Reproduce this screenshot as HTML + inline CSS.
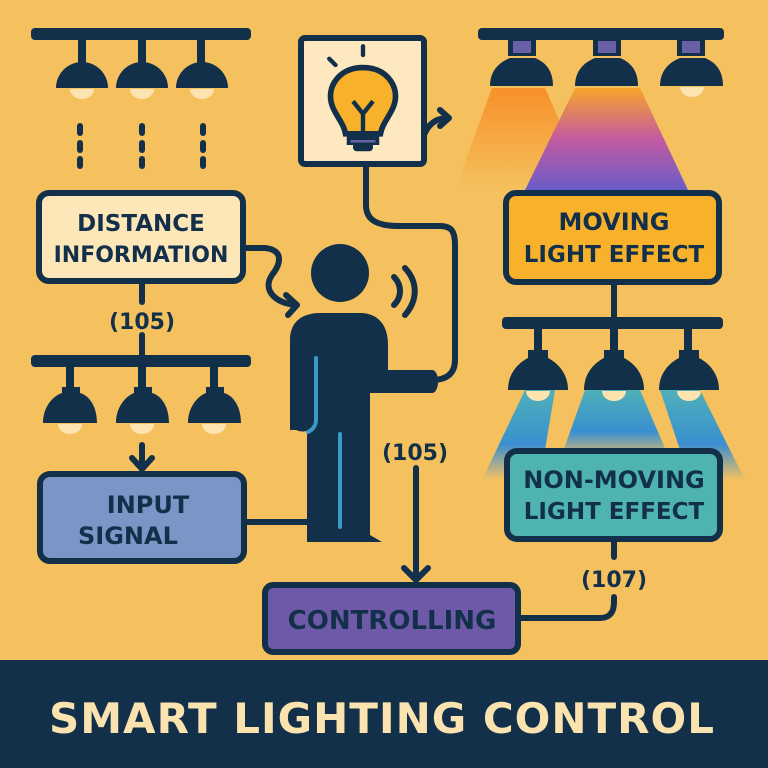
<!DOCTYPE html>
<html><head><meta charset="utf-8"><style>
html,body{margin:0;padding:0;background:#f5c15e;}
svg{display:block;}
text{font-family:"DejaVu Sans","Liberation Sans",sans-serif;font-weight:bold;fill:#13304a;}
</style></head><body>
<svg width="768" height="768" viewBox="0 0 768 768" xmlns="http://www.w3.org/2000/svg">
<defs>
<linearGradient id="og" x1="0" y1="0" x2="0" y2="1"><stop offset="0" stop-color="#f7902a"/><stop offset="1" stop-color="#f7902a" stop-opacity="0"/></linearGradient>
<linearGradient id="pg" x1="0" y1="0" x2="0" y2="1"><stop offset="0" stop-color="#f7a52a"/><stop offset="0.5" stop-color="#c35aa0"/><stop offset="1" stop-color="#6a5cc8"/></linearGradient>
<linearGradient id="bg" x1="0" y1="0" x2="0" y2="1"><stop offset="0" stop-color="#4fb0b8"/><stop offset="0.6" stop-color="#3a8fd0"/><stop offset="1" stop-color="#3a8fd0" stop-opacity="0"/></linearGradient>
</defs>
<rect width="768" height="768" fill="#f5c15e"/>
<g fill="#13304a" stroke="none">
<rect x="31" y="28" width="220" height="12" rx="4"/>
<rect x="78" y="38" width="8" height="28"/><rect x="138" y="38" width="8" height="28"/><rect x="197" y="38" width="8" height="28"/>
<path d="M56 88 A26 26 0 0 1 108 88 Z"/><path d="M116 88 A26 26 0 0 1 168 88 Z"/><path d="M176 88 A26 26 0 0 1 228 88 Z"/>
</g>
<g fill="#fde3b0"><path d="M70 89 A12 10 0 0 0 94 89Z"/><path d="M130 89 A12 10 0 0 0 154 89Z"/><path d="M190 89 A12 10 0 0 0 214 89Z"/></g>
<g stroke="#13304a" stroke-width="6" stroke-linecap="round">
<line x1="80" y1="126" x2="80" y2="133"/><line x1="80" y1="143" x2="80" y2="150"/><line x1="80" y1="159" x2="80" y2="166"/>
<line x1="142" y1="126" x2="142" y2="133"/><line x1="142" y1="143" x2="142" y2="150"/><line x1="142" y1="159" x2="142" y2="166"/>
<line x1="203" y1="126" x2="203" y2="133"/><line x1="203" y1="143" x2="203" y2="150"/><line x1="203" y1="159" x2="203" y2="166"/>
</g>
<rect x="39" y="193" width="204" height="88" rx="10" fill="#fde7b8" stroke="#13304a" stroke-width="6"/>
<text x="141" y="231" font-size="23" text-anchor="middle">DISTANCE</text>
<text x="141" y="262" font-size="22" text-anchor="middle">INFORMATION</text>
<g fill="none" stroke="#13304a" stroke-width="6" stroke-linecap="round" stroke-linejoin="round">
<path d="M244 248 H265 C285 250 280 265 272 275 C262 290 275 303 296 305"/>
<path d="M286 295 L297 305 L288 315"/>
<line x1="142" y1="282" x2="142" y2="302"/>
<line x1="142" y1="335" x2="142" y2="360"/>
<line x1="142" y1="445" x2="142" y2="468"/>
<path d="M132 458 L142 469 L152 458"/>
<line x1="244" y1="522" x2="310" y2="522"/>
</g>
<text x="142" y="329" font-size="22" text-anchor="middle">(105)</text>
<g fill="#13304a">
<rect x="31" y="355" width="220" height="12" rx="4"/>
<rect x="66" y="365" width="8" height="25"/><rect x="138" y="365" width="8" height="25"/><rect x="210" y="365" width="8" height="25"/>
<path d="M43 423 C43 405 55 395 62 393 L62 387 L80 387 L80 393 C88 395 97 405 97 423 Z"/>
<path d="M116 423 C116 405 128 395 134 393 L134 387 L152 387 L152 393 C160 395 169 405 169 423 Z"/>
<path d="M188 423 C188 405 200 395 206 393 L206 387 L224 387 L224 393 C232 395 241 405 241 423 Z"/>
</g>
<g fill="#fde3b0"><path d="M58 424 A12 10 0 0 0 82 424Z"/><path d="M130 424 A12 10 0 0 0 154 424Z"/><path d="M202 424 A12 10 0 0 0 226 424Z"/></g>
<rect x="40" y="474" width="204" height="87" rx="10" fill="#7b96c6" stroke="#13304a" stroke-width="6"/>
<text x="148" y="513" font-size="24" text-anchor="middle">INPUT</text>
<text x="78" y="544" font-size="24">SIGNAL</text>
<rect x="301" y="38" width="123" height="126" rx="4" fill="#fde8c0" stroke="#13304a" stroke-width="6"/>
<g transform="translate(363 105) scale(1.25) translate(-363 -105)">
<g stroke="#13304a" stroke-width="3.5" stroke-linecap="round" fill="none">
<line x1="363" y1="58" x2="363" y2="65"/><line x1="336" y1="68" x2="341" y2="73"/>
</g>
<path d="M363 75 C345 75 337 88 337 98 C337 110 347 117 349 128 L377 128 C379 117 389 110 389 98 C389 88 381 75 363 75Z" fill="#f7b12b" stroke="#13304a" stroke-width="4.5"/>
<path d="M355 102 L363 112 L371 102 M363 112 V128" fill="none" stroke="#13304a" stroke-width="3.5"/>
<rect x="350" y="128" width="26" height="9" fill="#13304a"/><rect x="355" y="135" width="16" height="7" rx="3" fill="#13304a"/>
<line x1="353" y1="134" x2="373" y2="134" stroke="#6a60a8" stroke-width="2"/>
</g>
<g fill="none" stroke="#13304a" stroke-width="6" stroke-linecap="round" stroke-linejoin="round">
<path d="M424 135 C428 125 435 118 448 118"/><path d="M440 110 L449 118 L440 126"/>
<path d="M366 165 V205 C366 222 380 226 400 226 H440 C452 226 455 232 455 245 V360 C455 375 445 380 432 380"/>
<path d="M394 277 C402 285 402 297 394 305"/><path d="M405 268 C418 282 418 300 405 315"/>
</g>
<g fill="#13304a">
<circle cx="340" cy="273" r="29"/>
<path d="M290 430 V340 C290 322 302 313 320 313 H360 C378 313 388 325 388 345 V370 H432 C440 370 440 393 432 393 H370 V535 L382 542 H307 V430 C307 432 300 432 296 430 Z"/>
</g>
<path d="M316 358 V420 C316 426 312 430 308 432" fill="none" stroke="#3a9ac8" stroke-width="4" stroke-linecap="round"/>
<line x1="340" y1="434" x2="340" y2="527" stroke="#3a9ac8" stroke-width="4" stroke-linecap="round"/>
<text x="415" y="460" font-size="22" text-anchor="middle">(105)</text>
<g fill="none" stroke="#13304a" stroke-width="6" stroke-linecap="round" stroke-linejoin="round">
<line x1="416" y1="468" x2="416" y2="580"/><path d="M404 568 L416 580 L428 568"/>
<path d="M520 618 H600 C610 618 614 612 614 602 V597"/>
<line x1="614" y1="542" x2="614" y2="557"/>
</g>
<text x="614" y="587" font-size="22" text-anchor="middle">(107)</text>
<rect x="265" y="585" width="253" height="67" rx="8" fill="#6e58a8" stroke="#13304a" stroke-width="6"/>
<text x="392" y="629" font-size="26" text-anchor="middle">CONTROLLING</text>
<path d="M492 88 L545 88 L590 190 L455 190 Z" fill="url(#og)"/>
<path d="M575 88 L640 88 L688 190 L525 190 Z" fill="url(#pg)"/>
<g fill="#13304a">
<rect x="478" y="28" width="246" height="12" rx="4"/>
<rect x="508" y="38" width="28" height="18"/><rect x="593" y="38" width="28" height="18"/><rect x="677" y="38" width="28" height="18"/>
<path d="M490 86 C490 70 500 62 510 58 L535 58 C545 62 553 70 553 86 Z"/>
<path d="M575 86 C575 70 585 62 595 58 L620 58 C630 62 638 70 638 86 Z"/>
<path d="M660 86 C660 70 670 62 680 58 L705 58 C715 62 723 70 723 86 Z"/>
</g>
<g fill="#6a60a8"><rect x="513" y="41" width="18" height="12"/><rect x="598" y="41" width="18" height="12"/><rect x="682" y="41" width="18" height="12"/></g>
<path d="M680 87 A12 10 0 0 0 704 87Z" fill="#fde3b0"/>
<rect x="506" y="193" width="213" height="89" rx="10" fill="#f7b12b" stroke="#13304a" stroke-width="6"/>
<text x="614" y="230" font-size="24" text-anchor="middle">MOVING</text>
<text x="614" y="262" font-size="23" text-anchor="middle">LIGHT EFFECT</text>
<line x1="614" y1="282" x2="614" y2="320" stroke="#13304a" stroke-width="6"/>
<path d="M525 390 L555 390 L540 480 L482 480 Z" fill="url(#bg)"/>
<path d="M585 390 L640 390 L670 460 L560 460 Z" fill="url(#bg)"/>
<path d="M660 390 L700 390 L745 480 L690 480 Z" fill="url(#bg)"/>
<g fill="#13304a">
<rect x="502" y="317" width="221" height="12" rx="4"/>
<rect x="534" y="327" width="8" height="25"/><rect x="610" y="327" width="8" height="25"/><rect x="684" y="327" width="8" height="25"/>
<path d="M508 390 C508 372 520 362 528 358 L528 350 L548 350 L548 358 C556 362 568 372 568 390 Z"/>
<path d="M584 390 C584 372 596 362 604 358 L604 350 L624 350 L624 358 C632 362 644 372 644 390 Z"/>
<path d="M659 390 C659 372 671 362 679 358 L679 350 L699 350 L699 358 C707 362 719 372 719 390 Z"/>
</g>
<g fill="#fde3b0"><path d="M526 391 A12 10 0 0 0 550 391Z"/><path d="M602 391 A12 10 0 0 0 626 391Z"/><path d="M677 391 A12 10 0 0 0 701 391Z"/></g>
<rect x="507" y="451" width="213" height="88" rx="10" fill="#4fb3b0" stroke="#13304a" stroke-width="6"/>
<text x="614" y="488" font-size="24" text-anchor="middle">NON-MOVING</text>
<text x="614" y="519" font-size="23" text-anchor="middle">LIGHT EFFECT</text>
<rect x="0" y="660" width="768" height="108" fill="#13304a"/>
<text x="382" y="733" font-size="42" text-anchor="middle" style="fill:#fbe3b0" letter-spacing="1">SMART LIGHTING CONTROL</text>
</svg>
</body></html>
